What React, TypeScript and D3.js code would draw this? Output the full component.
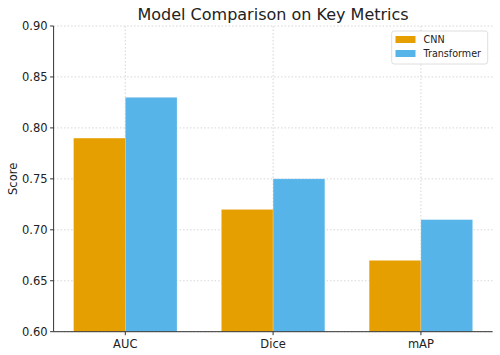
import React from "react";
import * as d3 from "d3";

const categories = ["AUC", "Dice", "mAP"];
const seriesNames = ["CNN", "Transformer"];
const cnnValues = [0.79, 0.72, 0.67];
const transformerValues = [0.83, 0.75, 0.71];
const yTicks = [0.6, 0.65, 0.7, 0.75, 0.8, 0.85, 0.9];
const colors = ["#E69F00", "#56B4E9"];
const title = "Model Comparison on Key Metrics";
const yLabel = "Score";

const W = 500, H = 355;
const left = 53.6, right = 492.6, top = 26, bottom = 331.7;
const font = "DejaVu Sans, sans-serif";

export default function App() {
  const x = d3.scaleLinear().domain([-0.485, 2.485]).range([left, right]);
  const y = d3.scaleLinear().domain([0.6, 0.9]).range([bottom, top]);
  const barW = 0.35;
  const series = [cnnValues, transformerValues];
  return (
    <svg width={W} height={H} style={{ position: "absolute", left: 0, top: 0 }} fontFamily={font}>
      <rect width={W} height={H} fill="#fff" />
      {/* grid */}
      {yTicks.map((t) => (
        <line key={"gy" + t} x1={left} x2={right} y1={y(t)} y2={y(t)} stroke="#cccccc" strokeWidth={0.8} strokeDasharray="1.5,2" />
      ))}
      {categories.map((c, i) => (
        <line key={"gx" + c} x1={x(i)} x2={x(i)} y1={top} y2={bottom} stroke="#cccccc" strokeWidth={0.8} strokeDasharray="1.5,2" />
      ))}
      {/* bars */}
      {series.map((vals, s) =>
        vals.map((v, i) => {
          const x0 = x(i + (s === 0 ? -barW : 0));
          const x1 = x(i + (s === 0 ? 0 : barW));
          return (
            <rect key={s + "-" + i} x={x0} y={y(v)} width={x1 - x0} height={y(0.6) - y(v)} fill={colors[s]} stroke="#ffffff" strokeOpacity={0.35} strokeWidth={0.6} />
          );
        })
      )}
      {/* axes */}
      <line x1={left} x2={left} y1={top} y2={bottom} stroke="#333" strokeWidth={1} />
      <line x1={left} x2={right} y1={bottom} y2={bottom} stroke="#333" strokeWidth={1} />
      {yTicks.map((t) => (
        <g key={"ty" + t}>
          <line x1={left - 3.5} x2={left} y1={y(t)} y2={y(t)} stroke="#333" />
          <text x={left - 6} y={y(t)} dy="0.35em" textAnchor="end" fontSize={11.5} fill="#222">{t.toFixed(2)}</text>
        </g>
      ))}
      {categories.map((c, i) => (
        <g key={"tx" + c}>
          <line x1={x(i)} x2={x(i)} y1={bottom} y2={bottom + 3.5} stroke="#333" />
          <text x={x(i)} y={bottom + 16} textAnchor="middle" fontSize={11.5} fill="#222">{c}</text>
        </g>
      ))}
      <text transform={`translate(17,${(top + bottom) / 2}) rotate(-90)`} textAnchor="middle" fontSize={11.5} fill="#222">{yLabel}</text>
      <text x={(left + right) / 2} y={19.5} textAnchor="middle" fontSize={16} fill="#222">{title}</text>
      {/* legend */}
      <rect x={391.7} y={31} width={96} height={33} rx={2.5} fill="#fff" fillOpacity={0.8} stroke="#d5d5d5" strokeWidth={0.8} />
      {seriesNames.map((n, s) => (
        <g key={n}>
          <rect x={395.5} y={36 + s * 14} width={20} height={7} fill={colors[s]} />
          <text x={423.5} y={39.5 + s * 14} dy="0.35em" fontSize={9.6} fill="#222">{n}</text>
        </g>
      ))}
    </svg>
  );
}
